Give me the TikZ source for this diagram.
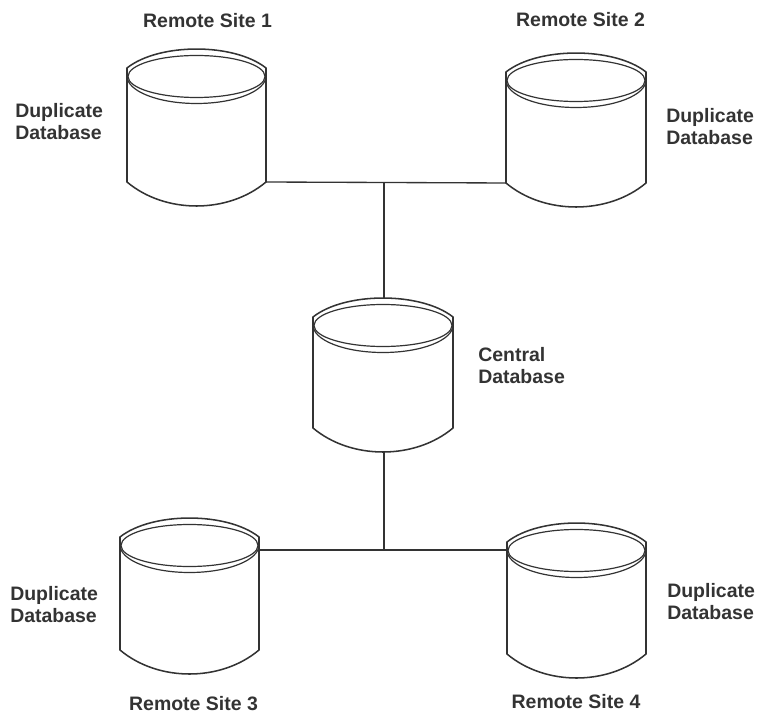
\documentclass[tikz,border=0pt]{standalone}
\usepackage{fontspec}
\setmainfont{Liberation Sans}
\newcommand{\dbcyl}[5]{% name, left, right, apex y, side-bottom y
  \pgfmathsetmacro{\xl}{#2}\pgfmathsetmacro{\xr}{#3}\pgfmathsetmacro{\xm}{(#2+#3)/2}
  \pgfmathsetmacro{\ya}{#4}\pgfmathsetmacro{\yb}{#5}
  \pgfmathsetmacro{\rx}{(#3-#2)/2}
  \coordinate (#1-bl) at (\xl,\yb);
  \coordinate (#1-br) at (\xr,\yb);
  \coordinate (#1-top) at (\xm,\ya);
  \coordinate (#1-bot) at (\xm,\yb+24);
  % outer silhouette
  \draw[dbline] (\xl,\ya+19) .. controls (\xl+32,\ya-6.3) and (\xr-32,\ya-6.3) .. (\xr,\ya+19)
     -- (#1-br) .. controls (\xr-38,\yb+32) and (\xl+38,\yb+32) .. (#1-bl) -- cycle;
  % inner ellipse and lower rim
  \draw[dbthin] (\xm,\ya+27.5) ellipse [x radius=\rx-1, y radius=21];
  \draw[dbthin] (\xl,\ya+27) arc [start angle=180,end angle=0,x radius=\rx,y radius=27.5];
}
\tikzset{
  x=0.75pt,y=-0.75pt,
  dbline/.style={draw=ink,line width=1.15pt,line join=round},
  dbthin/.style={draw=ink,line width=0.9pt},
  link/.style={draw=ink,line width=1pt},
  lbl/.style={text=ink,font=\bfseries\fontsize{14.6}{16.5}\selectfont,inner sep=0pt,align=left},
}
\definecolor{ink}{gray}{0.2}
\begin{document}
\begin{tikzpicture}
\useasboundingbox (0,0) rectangle (763,716);
\dbcyl{a}{127}{266}{49}{182}
\dbcyl{b}{506}{646}{53}{183}
\dbcyl{c}{313}{453}{298}{428}
\dbcyl{d}{120}{259}{518}{650}
\dbcyl{e}{507}{646}{523}{654}
\coordinate (j1) at (384,182.5);
\coordinate (j2) at (384,550);
\coordinate (dl) at (259,550);
\coordinate (el) at (507,550);
\draw[link] (a-br) -- (b-bl);
\draw[link] (j1) -- (j1 |- c-top);
\draw[link] (j2 |- c-bot) -- (j2);
\draw[link] (dl) -- (el);
\node[lbl,anchor=center] (t1) at (207.5,21) {Remote Site 1};
\node[lbl,anchor=center] (t2) at (580.5,20) {Remote Site 2};
\node[lbl,anchor=center] (t3) at (193.5,704) {Remote Site 3};
\node[lbl,anchor=center] (t4) at (576,702) {Remote Site 4};
\node[lbl,anchor=west] (l1) at (15,122) {Duplicate\\Database};
\node[lbl,anchor=west] (l2) at (666,126.5) {Duplicate\\Database};
\node[lbl,anchor=west] (l3) at (10,605) {Duplicate\\Database};
\node[lbl,anchor=west] (l4) at (667,601.5) {Duplicate\\Database};
\node[lbl,anchor=west] (l5) at (478,366) {Central\\Database};
\end{tikzpicture}
\end{document}
